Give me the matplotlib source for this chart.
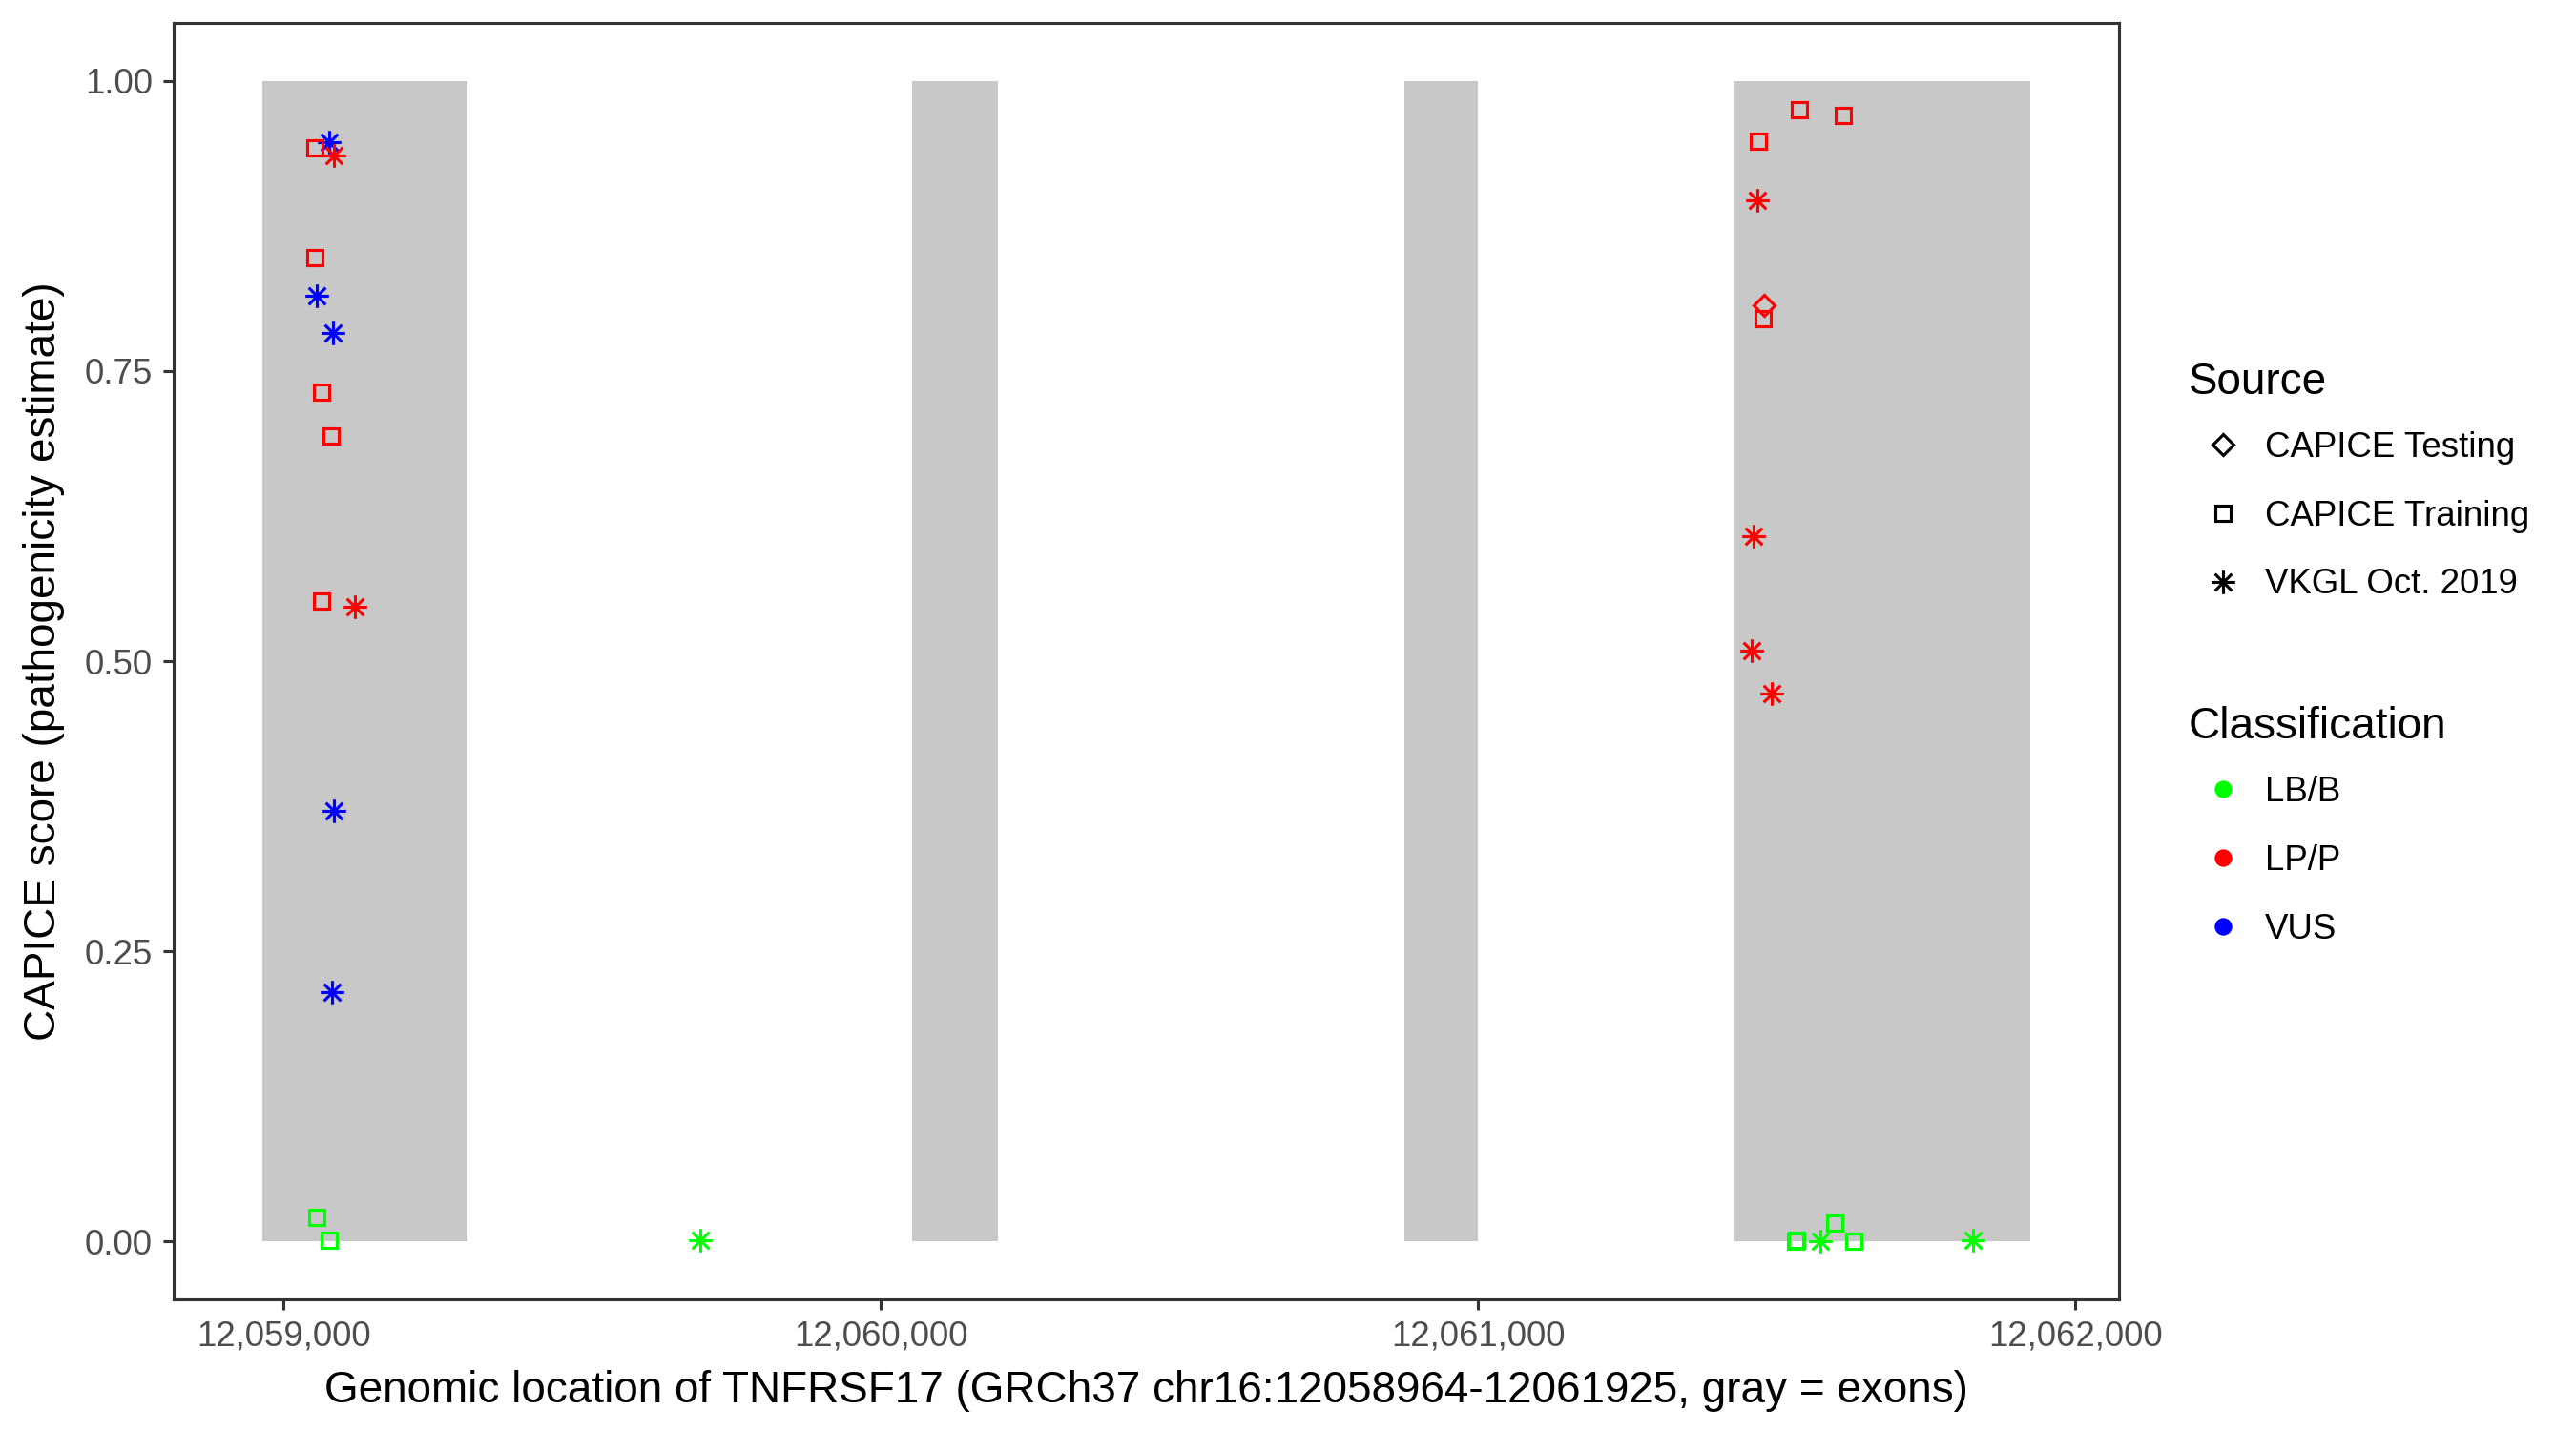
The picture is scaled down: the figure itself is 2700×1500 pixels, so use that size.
import matplotlib
matplotlib.use("Agg")
import matplotlib.pyplot as plt
from matplotlib.path import Path
from matplotlib.lines import Line2D
from matplotlib.ticker import FuncFormatter, FixedLocator
import numpy as np

plt.rcParams['font.family'] = ['Liberation Sans', 'DejaVu Sans']

# ---- data ----
exon_starts = [12058964, 12060052, 12060876, 12061428]
exon_ends = [12059308, 12060196, 12060999, 12061925]

positions = [12059076, 12059053, 12059084, 12059053, 12059055, 12059082,
             12059063, 12059079, 12059063, 12059120, 12059084, 12059081,
             12059056, 12059077, 12059698,
             12061538, 12061611, 12061470, 12061467, 12061479, 12061478,
             12061461, 12061458, 12061491,
             12061531, 12061533, 12061573, 12061597, 12061629, 12061829]
scores = [0.947, 0.942, 0.936, 0.848, 0.815, 0.783,
          0.732, 0.694, 0.552, 0.547, 0.371, 0.215,
          0.021, 0.001, 0.001,
          0.975, 0.970, 0.948, 0.897, 0.807, 0.795,
          0.608, 0.509, 0.472,
          0.000, 0.001, 0.000, 0.016, 0.000, 0.001]
sources = ["VKGL Oct. 2019", "CAPICE Training", "VKGL Oct. 2019", "CAPICE Training", "VKGL Oct. 2019", "VKGL Oct. 2019",
           "CAPICE Training", "CAPICE Training", "CAPICE Training", "VKGL Oct. 2019", "VKGL Oct. 2019", "VKGL Oct. 2019",
           "CAPICE Training", "CAPICE Training", "VKGL Oct. 2019",
           "CAPICE Training", "CAPICE Training", "CAPICE Training", "VKGL Oct. 2019", "CAPICE Testing", "CAPICE Training",
           "VKGL Oct. 2019", "VKGL Oct. 2019", "VKGL Oct. 2019",
           "CAPICE Training", "CAPICE Training", "VKGL Oct. 2019", "CAPICE Training", "CAPICE Training", "VKGL Oct. 2019"]
classes = ["VUS", "LP/P", "LP/P", "LP/P", "VUS", "VUS",
           "LP/P", "LP/P", "LP/P", "LP/P", "VUS", "VUS",
           "LB/B", "LB/B", "LB/B",
           "LP/P", "LP/P", "LP/P", "LP/P", "LP/P", "LP/P",
           "LP/P", "LP/P", "LP/P",
           "LB/B", "LB/B", "LB/B", "LB/B", "LB/B", "LB/B"]

source_levels = ["CAPICE Testing", "CAPICE Training", "VKGL Oct. 2019"]
class_levels = ["LB/B", "LP/P", "VUS"]
x_ticks = [12059000, 12060000, 12061000, 12062000]
y_ticks = [0.00, 0.25, 0.50, 0.75, 1.00]

# ---- styles ----
a = 0.72
star = Path([(-1, 0), (1, 0), (0, -1), (0, 1), (-a, -a), (a, a), (-a, a), (a, -a)],
            [Path.MOVETO, Path.LINETO] * 4)
shape_map = {"CAPICE Testing": ('D', 3.8), "CAPICE Training": ('s', 3.7), "VKGL Oct. 2019": (star, 5.9)}
color_map = {"LB/B": "#00FF00", "LP/P": "#FF0000", "VUS": "#0000FF"}

fig = plt.figure(figsize=(9, 5), dpi=300)
ax = fig.add_axes([182 / 2700, 1 - 1362 / 1500, (2221 - 182) / 2700, (1362 - 24) / 1500])

ax.bar(exon_starts, [1] * len(exon_starts), width=np.array(exon_ends) - np.array(exon_starts),
       bottom=0, align='edge', color="#C8C8C8", linewidth=0, zorder=1)

for x, y, s, c in zip(positions, scores, sources, classes):
    m, ms = shape_map[s]
    ax.plot([x], [y], linestyle='none', marker=m, markersize=ms, markerfacecolor='none',
            markeredgecolor=color_map[c], markeredgewidth=0.75, zorder=3)

xmin, xmax = min(exon_starts), max(exon_ends)
xr = xmax - xmin
ax.set_xlim(xmin - 0.05 * xr, xmax + 0.05 * xr)
ax.set_ylim(-0.05, 1.05)
ax.xaxis.set_major_locator(FixedLocator(x_ticks))
ax.yaxis.set_major_locator(FixedLocator(y_ticks))
ax.xaxis.set_major_formatter(FuncFormatter(lambda v, p: f"{int(round(v)):,}"))
ax.yaxis.set_major_formatter(FuncFormatter(lambda v, p: f"{v:.2f}"))

for sp in ax.spines.values():
    sp.set_color("#333333")
    sp.set_linewidth(0.75)
ax.tick_params(axis='both', direction='out', length=2.75, width=0.75, color="#333333",
               labelsize=8.8, labelcolor="#4D4D4D", pad=2.5)

ax.set_xlabel("Genomic location of TNFRSF17 (GRCh37 chr16:12058964-12061925, gray = exons)",
              fontsize=11, color='black', labelpad=4)
ax.set_ylabel("CAPICE score (pathogenicity estimate)", fontsize=11, color='black', labelpad=5)

# ---- legends ----
src_handles = [Line2D([], [], linestyle='none', marker=shape_map[s][0], markersize=shape_map[s][1],
                      markerfacecolor='none', markeredgecolor='black', markeredgewidth=0.75)
               for s in source_levels]
cls_handles = [Line2D([], [], linestyle='none', marker='o', markersize=4.4,
                      markerfacecolor=color_map[c], markeredgecolor=color_map[c], markeredgewidth=0)
               for c in class_levels]

common = dict(frameon=False, fontsize=8.8, title_fontsize=11, alignment='left',
              handlelength=1.96, handletextpad=0.22, labelspacing=1.0, borderpad=0,
              borderaxespad=0, loc='upper left', bbox_transform=fig.transFigure)
leg1 = ax.legend(src_handles, source_levels, title="Source",
                 bbox_to_anchor=(2294 / 2700, 1 - 379 / 1500), **common)
leg1._legend_box.sep = 7.0
ax.add_artist(leg1)
leg2 = ax.legend(cls_handles, class_levels, title="Classification",
                 bbox_to_anchor=(2294 / 2700, 1 - 740 / 1500), **common)
leg2._legend_box.sep = 7.0

fig.savefig("out.png", dpi=300, facecolor='white')
